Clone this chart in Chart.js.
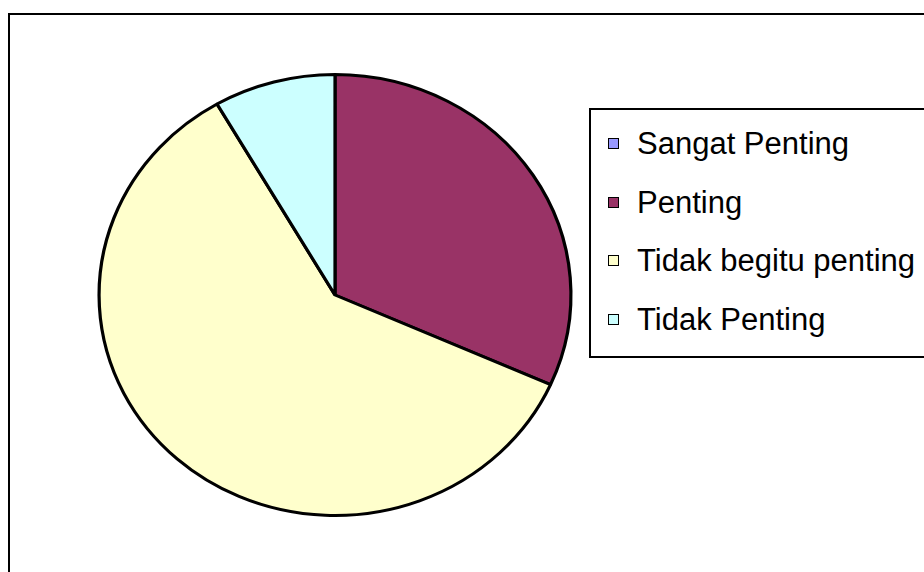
<!DOCTYPE html>
<html>
<head>
<meta charset="utf-8">
<script src="https://cdn.jsdelivr.net/npm/chart.js@4/dist/chart.umd.min.js"></script>
<style>
    body { margin: 0; background: #fff; }
    #wrap { position: relative; width: 924px; height: 572px; overflow: hidden; }
    #frame { position: absolute; left: 8px; top: 13px; width: 1000px; height: 1000px; border: 2.5px solid #000; }
    #pieChart { position: absolute; left: 0; top: 0; }
    #legendBox { position: absolute; left: 589px; top: 108px; width: 400px; height: 246px; border: 2px solid #000; background: #fff; }
    .legend-item { position: absolute; left: 608px; height: 58px; display: flex; align-items: center;
        font-family: 'Liberation Sans', Arial, sans-serif; font-size: 31px; line-height: 1; color: #000; white-space: nowrap; }
    .legend-swatch { width: 9px; height: 9px; border: 1.6px solid #000; margin-right: 18px; flex: none; }
</style>
</head>
<body>
<div id="wrap">
    <div id="frame"></div>
    <canvas id="pieChart" width="924" height="572"></canvas>
    <div id="legendBox"></div>
</div>
<script>
const labels = ['Sangat Penting', 'Penting', 'Tidak begitu penting', 'Tidak Penting'];
const values = [0, 19, 36, 5];
const colors = ['#9999FF', '#993366', '#FFFFCC', '#CCFFFF'];

// Excel drew the pie slightly wider than tall, stretch it around its center
const stretchX = 1.07;
const ellipsePlugin = {
    id: 'ellipse',
    beforeDatasetsDraw: (chart) => {
        const arc = chart.getDatasetMeta(0).data[0];
        const ctx = chart.ctx;
        ctx.save();
        ctx.translate(arc.x, arc.y);
        ctx.scale(stretchX, 1);
        ctx.translate(-arc.x, -arc.y);
    },
    afterDatasetsDraw: (chart) => {
        chart.ctx.restore();
    }
};

const chart = new Chart(document.getElementById('pieChart'), {
    type: 'pie',
    data: {
        labels: labels,
        datasets: [{
            data: values,
            backgroundColor: colors,
            borderColor: '#000',
            borderWidth: 3
        }]
    },
    options: {
        responsive: false,
        animation: false,
        layout: {
            padding: { left: 113, right: 367, top: 73, bottom: 55 }
        },
        plugins: {
            legend: { display: false },
            tooltip: { enabled: false }
        }
    },
    plugins: [ellipsePlugin]
});

// legend drawn as html, from the chart's own labels
const items = chart.options.plugins.legend.labels.generateLabels(chart);
const wrap = document.getElementById('wrap');
items.forEach((item, i) => {
    const row = document.createElement('div');
    row.className = 'legend-item';
    row.style.top = (143.5 - 29 + i * 58.5) + 'px';
    const sw = document.createElement('span');
    sw.className = 'legend-swatch';
    sw.style.background = item.fillStyle;
    row.appendChild(sw);
    row.appendChild(document.createTextNode(item.text));
    wrap.appendChild(row);
});
</script>
</body>
</html>
